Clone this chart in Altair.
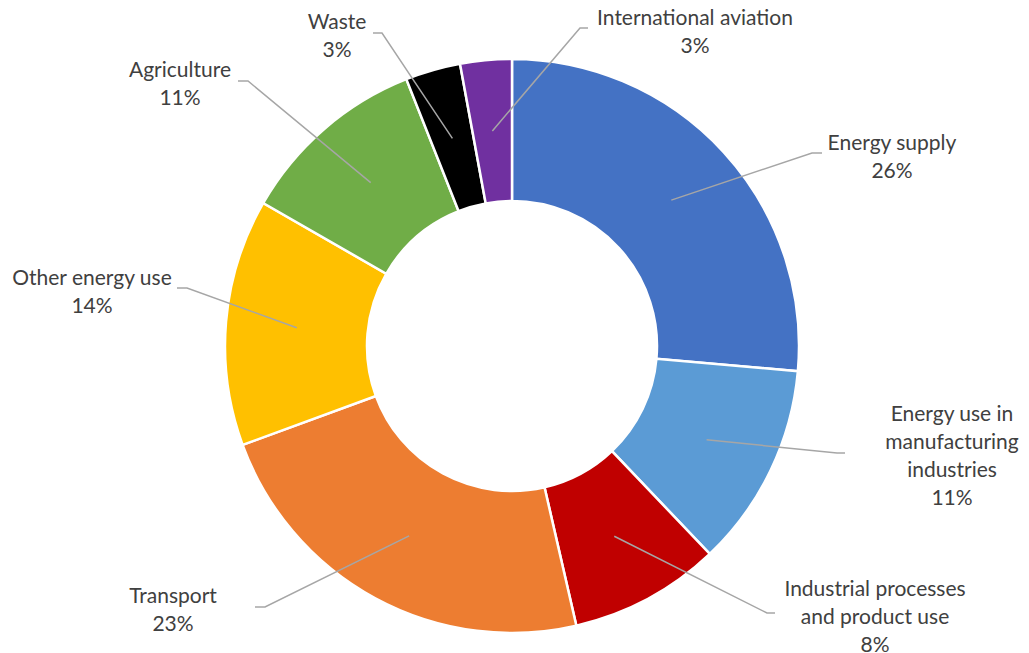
import math
import altair as alt
import pandas as pd

# ---- data ----
categories = [
    "Energy supply",
    "Energy use in manufacturing industries",
    "Industrial processes and product use",
    "Transport",
    "Other energy use",
    "Agriculture",
    "Waste",
    "International aviation",
]
label_text = [
    "Energy supply\n26%",
    "Energy use in\nmanufacturing\nindustries\n11%",
    "Industrial processes\nand product use\n8%",
    "Transport\n23%",
    "Other energy use\n14%",
    "Agriculture\n11%",
    "Waste\n3%",
    "International aviation\n3%",
]
shares = [26.4, 11.5, 8.5, 23.0, 13.9, 10.7, 3.1, 2.9]
colors = ["#4472C4", "#5B9BD5", "#C00000", "#ED7D31", "#FFC000", "#70AD47", "#000000", "#7030A0"]

# ---- layout (pixels relative to the donut centre, y downwards) ----
W, H = 1013, 645
CX, CY = 504, 338
R_OUT, R_IN = 287, 145
R_MID = (R_OUT + R_IN) / 2
label_first_line = [(380, -202), (440, 69), (363, 244), (-339, 251), (-420, -67), (-332, -275), (-175, -323), (183, -327)]
leader_bend = [(300, -193), (325, 107), (255, 267), (-247, 261), (-325, -58), (-264, -265), (-130, -313), (68, -318)]
leader_end = [(310, -193), (333, 107), (263, 267), (-257, 261), (-335, -58), (-274, -265), (-139, -313), (76, -318)]

df = pd.DataFrame({"cat": categories, "share": shares, "idx": list(range(len(categories)))})

# leader start points at mid-angle of each slice, on the middle of the ring
total = sum(shares)
cum = 0.0
rows = []
for i, (c, s) in enumerate(zip(categories, shares)):
    mid = (cum + s / 2) / total * 2 * math.pi
    cum += s
    sx, sy = R_MID * math.sin(mid), -R_MID * math.cos(mid)
    pts = [(sx, sy), leader_bend[i], leader_end[i]]
    for k, (px, py) in enumerate(pts):
        rows.append({"cat": c, "k": k, "px": px, "py": py})
lines_df = pd.DataFrame(rows)

lab_df = pd.DataFrame({
    "cat": categories,
    "txt": label_text,
    "lx": [p[0] for p in label_first_line],
    "ly": [p[1] for p in label_first_line],
})

xs = alt.Scale(domain=[-CX, W - CX])
ys = alt.Scale(domain=[-CY, H - CY], reverse=True)

donut = alt.Chart(df).mark_arc(
    outerRadius=R_OUT, innerRadius=R_IN, stroke="white", strokeWidth=2.5
).encode(
    theta=alt.Theta("share:Q", stack=True),
    order=alt.Order("idx:Q"),
    color=alt.Color("cat:N", scale=alt.Scale(domain=categories, range=colors), legend=None),
    x=alt.value(CX),
    y=alt.value(CY),
)

leaders = alt.Chart(lines_df).mark_line(color="#A6A6A6", strokeWidth=1.5).encode(
    x=alt.X("px:Q", scale=xs, axis=None),
    y=alt.Y("py:Q", scale=ys, axis=None),
    detail="cat:N",
    order="k:Q",
)

labels = alt.Chart(lab_df).mark_text(
    font="Lato", fontSize=21, color="#404040", lineBreak="\n", lineHeight=28,
    align="center", baseline="middle",
).encode(
    x=alt.X("lx:Q", scale=xs, axis=None),
    y=alt.Y("ly:Q", scale=ys, axis=None),
    text="txt:N",
)

chart = alt.layer(donut, leaders, labels).properties(
    width=W, height=H, padding=0, autosize=alt.AutoSizeParams(type="none")
).configure_view(stroke=None)

chart.save("out.html", embed_options={"renderer": "svg", "actions": False})
